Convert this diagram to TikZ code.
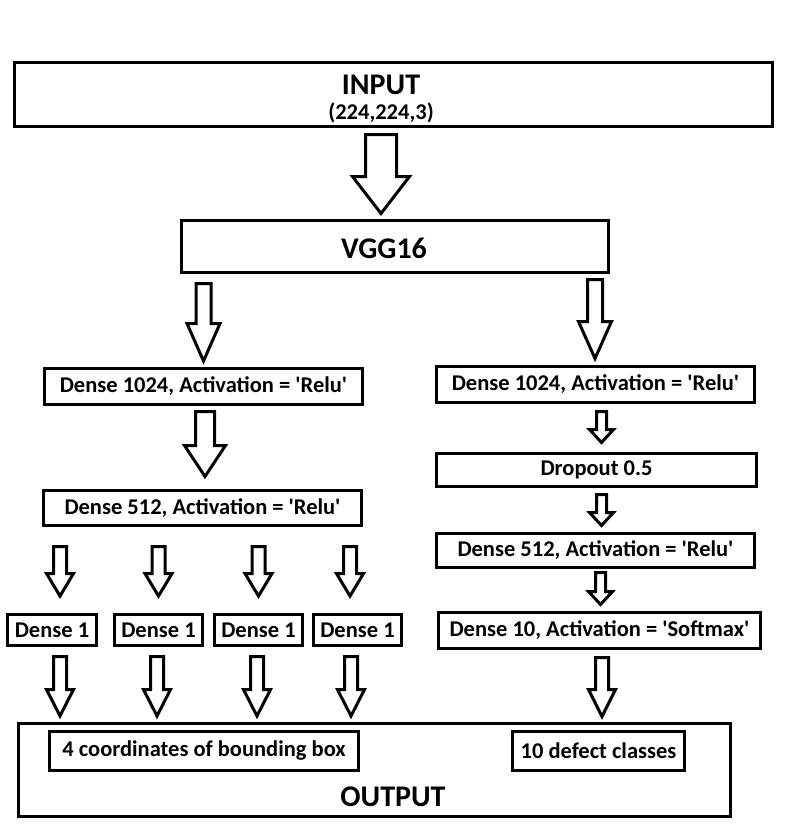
\documentclass[tikz,border=0pt]{standalone}
\usepackage{fontspec}
\setmainfont{Carlito}
\usepackage{tikz}
\usetikzlibrary{calc}
\tikzstyle{layer} = [rectangle, draw=black, line width=3pt, outer sep=0pt, inner sep=0pt, text centered, font=\bfseries\fontsize{22.5}{27}\selectfont]
\tikzstyle{title} = [inner sep=0pt, font=\bfseries\fontsize{30}{36}\selectfont]
\tikzstyle{blockarrow} = [draw=black, line width=3pt, fill=white, line join=miter]
\newcommand{\q}{\textquotesingle}
% hollow arrow: top of shaft, tip level, shaft half width, head half width, head length
\newcommand{\hollowarrow}[5]{%
  \draw[blockarrow] let \p1=(#1), \p2=(#2) in
    (\x1-#3,\y1) -- (\x1+#3,\y1) -- (\x1+#3,\y2+#5) -- (\x1+#4,\y2+#5) -- (\x1,\y2)
    -- (\x1-#4,\y2+#5) -- (\x1-#3,\y2+#5) -- cycle;}

\begin{document}
\begin{tikzpicture}[x=1pt, y=-1pt]
    \useasboundingbox (0,0) rectangle (800,825);

    \node (input) [layer, minimum width=758pt, minimum height=64pt] at (393.5,94.5) {};
    \node (input_label) [title, align=center, font=\bfseries\fontsize{22.5}{25}\selectfont] at (381,94.5) {{\fontsize{30}{25}\selectfont\rule{0pt}{24.6pt}INPUT}\\\smash{(224,224,3)}};

    \node (vgg) [layer, minimum width=427pt, minimum height=52pt] at (395,246.5) {};
    \node (vgg_label) [title] at (384,248.3) {VGG16};

    % left branch
    \node (dense1024_left) [layer, minimum width=318pt, minimum height=36pt] at (203.5,386.5) {Dense 1024, Activation = \q Relu\q};
    \node (dense512_left) [layer, minimum width=318pt, minimum height=35pt] at (202.5,508) {Dense 512, Activation = \q Relu\q};
    \foreach \i/\x/\w in {1/52/89, 2/158.5/88, 3/258.5/88, 4/357.5/88}
        \node (dense1_\i) [layer, minimum width=\w pt, minimum height=31pt] at (\x,630) {Dense 1};

    % right branch
    \node (dense1024_right) [layer, minimum width=318pt, minimum height=36pt] at (595.5,384.5) {Dense 1024, Activation = \q Relu\q};
    \node (dropout) [layer, minimum width=320pt, minimum height=33pt] at (596.5,470) {Dropout 0.5};
    \node (dense512_right) [layer, minimum width=318pt, minimum height=34pt] at (595.5,550.5) {Dense 512, Activation = \q Relu\q};
    \node (dense10) [layer, minimum width=322pt, minimum height=36pt] at (599.5,630.5) {Dense 10, Activation = \q Softmax\q};

    % output
    \node (output) [layer, minimum width=712pt, minimum height=93pt] at (374.5,770) {};
    \node (coords) [layer, minimum width=309pt, minimum height=39pt] at (204,751) {4 coordinates of bounding box};
    \node (classes) [layer, minimum width=172pt, minimum height=39pt] at (598.5,751) {10 defect classes};
    \node (output_label) [title] at (393,796.5) {OUTPUT};

    \hollowarrow{$(input.south)+(-12.5,8)$}{$(vgg.north)+(0,-7)$}{15.5pt}{28.5pt}{37pt}
    \hollowarrow{$(vgg.south -| dense1024_left.north)+(0,11)$}{$(dense1024_left.north)+(0,-7.5)$}{7.5pt}{16.5pt}{37.5pt}
    \hollowarrow{$(vgg.south -| dense1024_right.north)+(-0.5,7)$}{$(dense1024_right.north)+(0,-8)$}{7.5pt}{16.5pt}{37pt}
    \hollowarrow{$(dense1024_left.south)+(1.5,7)$}{$(dense512_left.north)+(0,-14)$}{9.5pt}{20.5pt}{31pt}

    \hollowarrow{$(dense1024_right.south)+(6,9)$}{$(dropout.north)+(0,-11)$}{5pt}{12pt}{13pt}
    \hollowarrow{$(dropout.south)+(5,8)$}{$(dense512_right.north)+(0,-8)$}{5pt}{12pt}{13pt}
    \hollowarrow{$(dense512_right.south)+(5,5)$}{$(dense10.north)+(0,-8)$}{5pt}{12pt}{13pt}

    \foreach \i/\dx in {1/8, 2/0, 3/0, 4/-7.5}{
        \hollowarrow{$(dense512_left.south -| dense1_\i.north)+(\dx,21)$}{$(dense1_\i.north)+(0,-18.5)$}{6.5pt}{13.5pt}{22.5pt}
    }
    \foreach \i/\dx in {1/8, 2/-1.5, 3/-1.5, 4/-6.5}{
        \hollowarrow{$(dense1_\i.south)+(\dx,11)$}{$(output.north)+(0,-7.5)$}{6.5pt}{13.5pt}{26.5pt}
    }
    \hollowarrow{$(dense10.south)+(2.5,9)$}{$(output.north)+(0,-7)$}{6.5pt}{13.5pt}{27pt}
\end{tikzpicture}
\end{document}
